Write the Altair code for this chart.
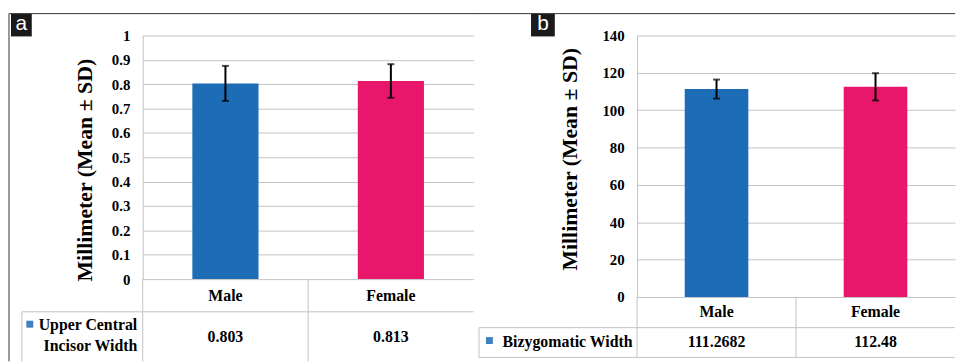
import altair as alt
import pandas as pd

# ---------------- data ----------------
categories = ["Male", "Female"]
bar_colors = ["#1c6db5", "#e9176b"]

a_means = [0.803, 0.813]
a_sds = [0.072, 0.069]
a_labels = ["0.803", "0.813"]
a_ticks = [0, 0.1, 0.2, 0.3, 0.4, 0.5, 0.6, 0.7, 0.8, 0.9, 1]
a_series = "Upper Central\nIncisor Width"

b_means = [111.2682, 112.48]
b_sds = [5.1, 7.3]
b_labels = ["111.2682", "112.48"]
b_ticks = [0, 20, 40, 60, 80, 100, 120, 140]
b_series = "Bizygomatic Width"

y_title = "Millimeter (Mean ± SD)"

SERIF = "Liberation Serif"
GRID = "#c2c2c2"
FRAME = "#333333"

one = pd.DataFrame({"k": [0]})


def hline(x1, x2, y, color=GRID, w=1):
    return alt.Chart(one).mark_rule(color=color, strokeWidth=w).encode(
        x=alt.value(x1), x2=alt.value(x2), y=alt.value(y))


def vline(x, y1, y2, color=GRID, w=1):
    return alt.Chart(one).mark_rule(color=color, strokeWidth=w).encode(
        x=alt.value(x), y=alt.value(y1), y2=alt.value(y2))


def panel(means, sds, labels, ticks, fmt, series, letter, W, H, g):
    df = pd.DataFrame({
        "cat": categories,
        "mean": means,
        "lo": [m - s for m, s in zip(means, sds)],
        "hi": [m + s for m, s in zip(means, sds)],
        "label": labels,
    })
    xs = alt.Scale(domain=categories, paddingInner=0.6, paddingOuter=0.3)
    xe = alt.X("cat:N", sort=categories, scale=xs, axis=None)
    ys = alt.Scale(domain=[ticks[0], ticks[-1]], nice=False, zero=True)
    y_axis = alt.Axis(
        values=ticks, format=fmt, title=y_title,
        titleX=g["tx"], titleY=g["ty"], titleAngle=270,
        titleBaseline="alphabetic", titleAlign="center",
        titleFont=SERIF, titleFontSize=22, titleFontWeight="bold",
        titleColor="black",
        labelFont=SERIF, labelFontSize=15, labelFontWeight="bold",
        labelColor="black", labelPadding=13,
        ticks=False, domain=True, domainColor=GRID,
        grid=True, gridColor=GRID, gridWidth=1)
    base = alt.Chart(df)

    bars = base.mark_bar().encode(
        x=xe,
        y=alt.Y("mean:Q", scale=ys, axis=y_axis),
        color=alt.Color("cat:N", scale=alt.Scale(domain=categories, range=bar_colors),
                        legend=None),
    )
    err = base.mark_rule(color="black", strokeWidth=2).encode(
        x=xe, y=alt.Y("lo:Q", scale=ys, axis=y_axis), y2="hi:Q")
    cap_hi = base.mark_tick(color="black", size=7, thickness=2).encode(
        x=xe, y=alt.Y("hi:Q", scale=ys, axis=y_axis))
    cap_lo = base.mark_tick(color="black", size=7, thickness=2).encode(
        x=xe, y=alt.Y("lo:Q", scale=ys, axis=y_axis))

    xlab = base.mark_text(font=SERIF, fontSize=16, fontWeight="bold", color="black",
                          baseline="middle").encode(
        x=xe, y=alt.value(g["xlab_y"]), text="cat:N")
    vals = base.mark_text(font=SERIF, fontSize=16, fontWeight="bold", color="black",
                          baseline="middle").encode(
        x=xe, y=alt.value(g["val_y"]), text="label:N")

    leg = pd.DataFrame({"s": [series]})
    leg_mark = alt.Chart(leg).mark_square(size=49, color=bar_colors[0], opacity=0.85).encode(
        x=alt.value(g["mk_x"]), y=alt.value(g["mk_y"]))
    leg_text = alt.Chart(leg).mark_text(font=SERIF, fontSize=16, fontWeight="bold",
                                        color="black", align="right", baseline="middle",
                                        lineBreak="\n", lineHeight=22).encode(
        x=alt.value(g["lt_x"]), y=alt.value(g["lt_y"]), text="s:N")

    lt = pd.DataFrame({"t": [letter]})
    box = alt.Chart(lt).mark_rect(color="#1a1a1a").encode(
        x=alt.value(g["box"][0]), x2=alt.value(g["box"][1]),
        y=alt.value(-22), y2=alt.value(1))
    box_t = alt.Chart(lt).mark_text(font="Liberation Sans", fontSize=21, color="white",
                                    baseline="middle").encode(
        x=alt.value((g["box"][0] + g["box"][1]) / 2), y=alt.value(-11), text="t:N")

    lines = [
        vline(0, H, g["tbl_bot"]),
        vline(W / 2, H, g["tbl_bot"]),
        hline(g["leg_x"], W, g["row2"]),
        vline(g["leg_x"], g["row2"], g["tbl_bot"]),
        hline(g["frame_x"], g["frame_x2"], -22, FRAME),
    ]
    lines += g.get("extra", [])

    return alt.layer(bars, err, cap_hi, cap_lo, xlab, vals,
                     leg_mark, leg_text, box, box_t, *lines).properties(width=W, height=H)


WA, HA = 334, 246
geo_a = dict(tx=-52, ty=135.5, xlab_y=263, val_y=304.5, mk_x=-114, mk_y=291.5,
             lt_x=-5.5, lt_y=292, box=(-133, -112), tbl_bot=329, row2=279,
             leg_x=-122, frame_x=-135, frame_x2=337,
             extra=[vline(-135, -22, 329, FRAME)])

WB, HB = 321, 264
geo_b = dict(tx=-61.5, ty=124.5, xlab_y=279.5, val_y=310, mk_x=-149, mk_y=308,
             lt_x=-4.5, lt_y=310, box=(-107, -83), tbl_bot=325, row2=295,
             leg_x=-159.5, frame_x=-162.5, frame_x2=321,
             extra=[hline(-159.5, WB, 325)])

pa = panel(a_means, a_sds, a_labels, a_ticks, ".1~f", a_series, "a", WA, HA, geo_a)
pb = panel(b_means, b_sds, b_labels, b_ticks, "d", b_series, "b", WB, HB, geo_b)

chart = alt.hconcat(pa, pb, spacing=165, bounds="flush").properties(
    padding={"left": 0, "top": 3, "right": 0, "bottom": 0},
    background="white",
).configure_view(stroke=None)

chart.save("out.html", embed_options={"renderer": "svg", "actions": False})
